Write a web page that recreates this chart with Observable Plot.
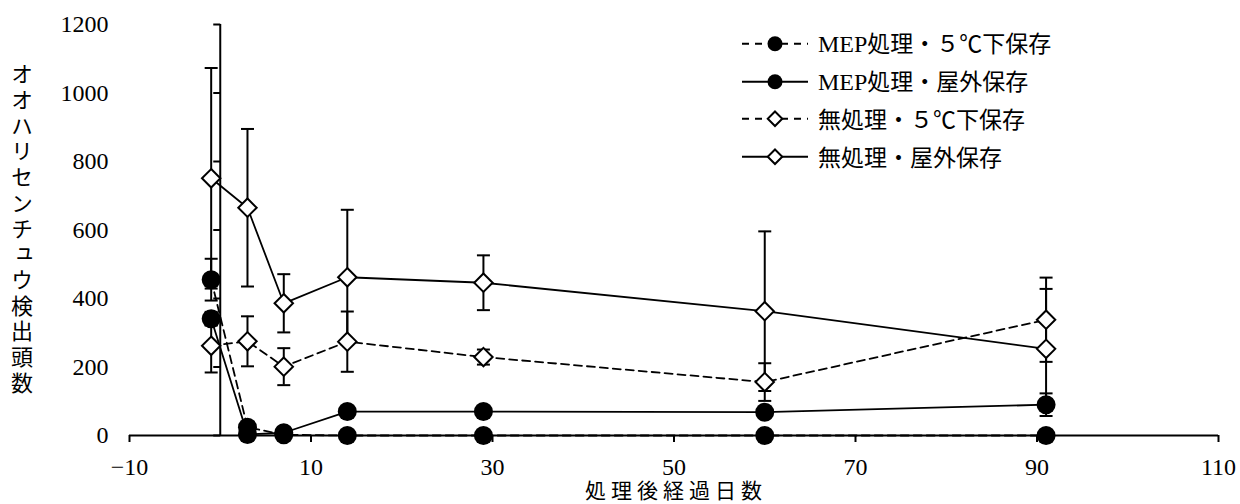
<!DOCTYPE html>
<html>
<head>
<meta charset="utf-8">
<script src="https://cdn.jsdelivr.net/npm/d3@7"></script>
<script src="https://cdn.jsdelivr.net/npm/@observablehq/plot@0.6"></script>
<style>
  html, body { margin: 0; padding: 0; background: #fff; }
  #wrap { position: relative; width: 1240px; height: 504px; overflow: hidden; }
  #legend { position: absolute; left: 742px; top: 25px; font-family: "Noto Sans CJK JP", sans-serif; font-size: 23px; color: #000; }
  .row { display: flex; align-items: center; height: 37.5px; }
  .row > span { margin-left: 10px; line-height: 1; white-space: nowrap; }
  .lat { font-family: "Liberation Serif", "Times New Roman", serif; font-size: 24px; }
  #ytitle { position: absolute; left: 11px; top: 63px; writing-mode: vertical-rl; text-orientation: upright;
            font-family: "Noto Sans CJK JP", sans-serif; font-size: 22px; line-height: 22px; letter-spacing: 3.7px; color: #000; white-space: nowrap; }
  #xtitle { position: absolute; left: 0; top: 478.5px; width: 1352px; text-align: center;
            font-family: "Noto Sans CJK JP", sans-serif; font-size: 21px; line-height: 21px; letter-spacing: 5px; color: #000; white-space: nowrap; }
  svg text { font-family: "Liberation Serif", "Times New Roman", "DejaVu Serif", serif !important; }
</style>
</head>
<body>
<div id="wrap"></div>
<script>
// ---- data ----
const days = [-1, 3, 7, 14, 29, 60, 91];
const seriesNames = ["MEP処理・５℃下保存", "MEP処理・屋外保存", "無処理・５℃下保存", "無処理・屋外保存"];
const mep5 = [455, 24, 2, 0, 0, 0, 0];
const mep5Err = [61, 5, 2, 1, 1, 1, 1];
const mepOut = [341, 3, 8, 70, 70, 68, 90];
const mepOutErr = [20, 3, 5, 12, 10, 12, 33];
const non5 = [262, 275, 201, 274, 229, 156, 338];
const non5Err = [78, 73, 54, 88, 22, 55, 123];
const nonOut = [751, 665, 386, 462, 446, 363, 253];
const nonOutErr = [322, 230, 85, 197, 80, 233, 175];
const xTicks = [-10, 10, 30, 50, 70, 90, 110];
const yTicks = [0, 200, 400, 600, 800, 1000, 1200];
const xTitle = "処理後経過日数";
const yTitle = "オオハリセンチュウ検出頭数";

const seriesValues = [mep5, mepOut, non5, nonOut];
const seriesErrs = [mep5Err, mepOutErr, non5Err, nonOutErr];
const seriesDashed = [true, false, true, false];
const seriesFilled = [true, true, false, false];

const rows = [];
seriesNames.forEach((name, i) => {
  days.forEach((d, j) => {
    rows.push({series: name, day: d, value: seriesValues[i][j], err: seriesErrs[i][j]});
  });
});

const serif = "'Liberation Serif', 'Times New Roman', 'DejaVu Serif', serif";

// custom symbols
const hCap = {draw(ctx, size) { const r = Math.sqrt(size / Math.PI); ctx.moveTo(-r, 0); ctx.lineTo(r, 0); }};
const leftTick = {draw(ctx, size) { const r = Math.sqrt(size / Math.PI); ctx.moveTo(-r, 0); ctx.lineTo(0, 0); }};

const marks = [
  Plot.ruleY([0], {stroke: "black", strokeWidth: 2}),
  Plot.ruleX([0], {y1: 0, y2: 1200, stroke: "black", strokeWidth: 2}),
  Plot.dot(yTicks, {x: () => 0, y: d => d, symbol: leftTick, r: 7, stroke: "black", strokeWidth: 2, fill: "none"}),
  Plot.axisX(xTicks, {tickSize: 7, tickPadding: 15, strokeWidth: 2, label: null, fontFamily: serif, fontSize: 24, tickFormat: d => d < 0 ? "−" + Math.abs(d) : String(d)}),
  Plot.axisY(yTicks, {tickSize: 0, tickPadding: 21, label: null, fontFamily: serif, fontSize: 24, tickFormat: d => String(d)})
];

// error bars
seriesNames.forEach((name) => {
  const data = rows.filter(r => r.series === name);
  marks.push(Plot.ruleX(data, {x: "day", y1: d => d.value - d.err, y2: d => d.value + d.err, stroke: "black", strokeWidth: 2}));
  marks.push(Plot.dot(data, {x: "day", y: d => d.value + d.err, symbol: hCap, r: 6.5, stroke: "black", strokeWidth: 2, fill: "none"}));
  marks.push(Plot.dot(data, {x: "day", y: d => d.value - d.err, symbol: hCap, r: 6.5, stroke: "black", strokeWidth: 2, fill: "none"}));
});
// lines
seriesNames.forEach((name, i) => {
  const data = rows.filter(r => r.series === name);
  marks.push(Plot.line(data, {x: "day", y: "value", stroke: "black", strokeWidth: 1.8, strokeDasharray: seriesDashed[i] ? "8,5" : null}));
});
// markers
seriesNames.forEach((name, i) => {
  const data = rows.filter(r => r.series === name);
  if (seriesFilled[i]) {
    marks.push(Plot.dot(data, {x: "day", y: "value", r: 9.5, fill: "black", stroke: "none"}));
  } else {
    marks.push(Plot.dot(data, {x: "day", y: "value", symbol: "diamond2", r: 8.3, fill: "white", stroke: "black", strokeWidth: 2}));
  }
});

const chart = Plot.plot({
  width: 1240,
  height: 504,
  marginLeft: 129,
  marginRight: 22,
  marginTop: 24,
  marginBottom: 69,
  x: {domain: [-10, 110]},
  y: {domain: [0, 1200]},
  style: {fontFamily: serif, fontSize: "24px", background: "white", color: "black", overflow: "visible"},
  marks
});
d3.select(chart).selectAll("text").style("font-family", serif);
const wrap = document.getElementById("wrap");
wrap.appendChild(chart);

// axis titles
const yt = document.createElement("div");
yt.id = "ytitle";
yt.textContent = yTitle;
wrap.appendChild(yt);
const xt = document.createElement("div");
xt.id = "xtitle";
xt.textContent = xTitle;
wrap.appendChild(xt);

// legend
const legend = document.createElement("div");
legend.id = "legend";
seriesNames.forEach((name, i) => {
  const row = document.createElement("div");
  row.className = "row";
  const dash = seriesDashed[i] ? 'stroke-dasharray="7,6"' : "";
  const marker = seriesFilled[i]
    ? '<circle cx="33" cy="18.75" r="7.5" fill="black"/>'
    : '<path d="M33,11.5 L40.25,18.75 L33,26 L25.75,18.75 Z" fill="white" stroke="black" stroke-width="2"/>';
  const label = name.replace(/^(MEP)/, '<span class="lat">$1</span>');
  row.innerHTML = `<svg width="66" height="37.5"><line x1="0" x2="66" y1="18.75" y2="18.75" stroke="black" stroke-width="2" ${dash}/>${marker}</svg><span>${label}</span>`;
  legend.appendChild(row);
});
wrap.appendChild(legend);
</script>
</body>
</html>
